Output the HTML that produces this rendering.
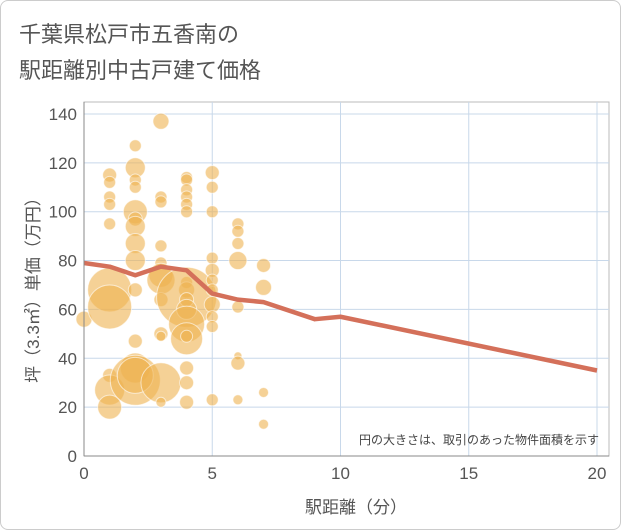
<!DOCTYPE html>
<html><head><meta charset="utf-8"><style>
body{margin:0;background:#fff;font-family:"Liberation Sans","Noto Sans CJK JP",sans-serif}
#wrap{position:relative;width:619px;height:528px;border:1px solid #ccc;border-radius:8px;overflow:hidden}
</style></head><body>
<div id="wrap">
<svg id="chart" width="621" height="530">
<text x="18" y="41" font-size="22" fill="#555">千葉県松戸市五香南の</text>
<text x="18" y="77" font-size="22" fill="#555">駅距離別中古戸建て価格</text>
<g id="grid"></g><g id="marks"></g><g id="axes"></g>
<text x="598" y="443" font-size="12" fill="#444" text-anchor="end">円の大きさは、取引のあった物件面積を示す</text>
<text x="355" y="512" font-size="17" fill="#555" text-anchor="middle">駅距離（分）</text>
<text transform="translate(38,285) rotate(-90)" font-size="17" fill="#555" text-anchor="middle">坪（3.3㎡）単価（万円）</text>
</svg></div>
<script>
const xTicks=[0,5,10,15,20];
const yTicks=[0,20,40,60,80,100,120,140];
const bx=[0,1,1,1,1,1,1,1,1,1,1,2,2,2,2,2,2,2,2,2,2,2,2,2,2,3,3,3,3,3,3,3,3,3,3,3,3,4,4,4,4,4,4,4,4,4,4,4,4,4,4,4,4,4,5,5,5,5,5,5,5,5,5,5,5,6,6,6,6,6,6,6,6,7,7,7,7];
const by=[56,115,112,106,103,95,68,61,33,27,20,127,118,113,110,100,97,94,87,80,68,47,36,31,33,137,106,104,86,79,74,72,64,50,49,30,22,114,113,109,106,103,100,71,68,65,64,60,54,48,49,36,30,22,116,110,100,81,76,72,68,62,57,53,23,95,92,87,80,61,41,38,23,78,69,26,13];
const bs=[8,7,6,6,6,6,22,22,7,15,12,6,10,6,6,12,7,10,10,10,7,7,15,25,18,8,6,6,6,6,12,14,7,7,5,20,5,6,6,6,6,6,6,6,8,30,7,10,18,16,6,7,7,7,7,6,6,6,7,6,6,8,6,6,6,6,6,6,9,6,4,7,5,7,8,5,5];
const lx=[0,1,2,3,4,5,6,7,9,10,20];
const ly=[79,77.5,74,77.5,76,66.5,64,63,56,57,35];
const X=v=>83+v*25.65, Y=v=>455-v*2.443;
const NS='http://www.w3.org/2000/svg';
function mk(t,a,p){const e=document.createElementNS(NS,t);for(const k in a)e.setAttribute(k,a[k]);p.appendChild(e);return e;}
const grid=document.getElementById('grid'),marks=document.getElementById('marks'),axes=document.getElementById('axes');
mk('rect',{x:83,y:101,width:525,height:354,fill:'none',stroke:'#bbb'},grid);
yTicks.forEach(t=>{if(t>0){const l=mk('line',{x1:83,x2:608,y1:Y(t),y2:Y(t),stroke:'#c8d8ea'},grid);}
const tx=mk('text',{x:76,y:Y(t)+6,'font-size':17,fill:'#555','text-anchor':'end'},axes);tx.textContent=t;});
xTicks.forEach(t=>{if(t>0){const l=mk('line',{x1:X(t),x2:X(t),y1:101,y2:455,stroke:'#c8d8ea'},grid);}
const tx=mk('text',{x:X(t),y:478,'font-size':17,fill:'#555','text-anchor':'middle'},axes);tx.textContent=t;});
mk('line',{x1:83,x2:83,y1:101,y2:455,stroke:'#888'},axes);
mk('line',{x1:83,x2:608,y1:455,y2:455,stroke:'#888'},axes);
bx.forEach((v,i)=>{const c=mk('circle',{cx:X(v),cy:Y(by[i]),r:bs[i],fill:'rgba(238,178,80,0.6)',stroke:'rgba(255,255,255,0.6)','stroke-width':1},marks);

});
const p=mk('polyline',{points:lx.map((v,i)=>X(v)+','+Y(ly[i])).join(' '),fill:'none',stroke:'#d4705a','stroke-width':4.5,'stroke-linejoin':'round'},marks);


</script></body></html>
